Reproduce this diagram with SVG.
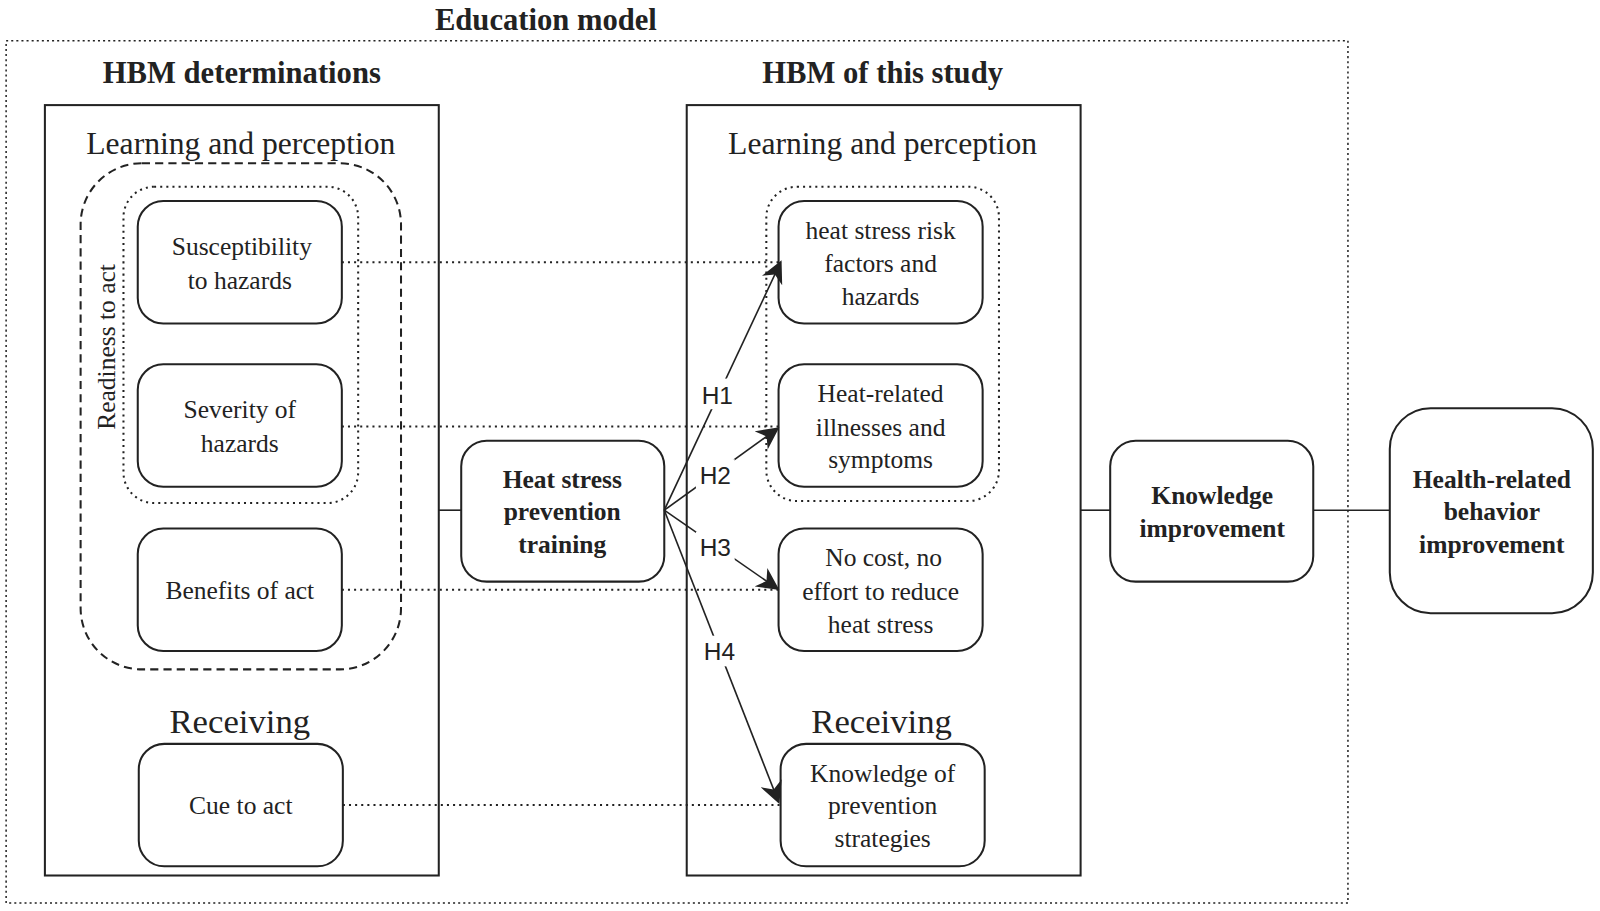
<svg xmlns="http://www.w3.org/2000/svg" width="1600" height="911" viewBox="0 0 1600 911">
<style>
text{font-family:"Liberation Serif",serif;fill:#222;text-anchor:middle}
.t{font-size:25px}
.h{font-size:30px;font-weight:bold}
.b{font-size:25px;font-weight:bold}
.s{font-size:31px}
.r{font-size:34px}
.hl{font-family:"Liberation Sans",sans-serif;font-size:24px}
.box{fill:#fff;stroke:#222;stroke-width:2}
.n{fill:#fff;stroke:#222;stroke-width:2}
.dot{fill:none;stroke:#222;stroke-width:2;stroke-dasharray:2 4}
.ln{stroke:#222;stroke-width:1.6;fill:none}
</style>
<defs>
<marker id="A" viewBox="0 0 10 10" refX="9" refY="5" markerWidth="22" markerHeight="22" markerUnits="userSpaceOnUse" orient="auto"><path d="M0,0 L10,5 L0,10 L3,5 Z" fill="#222"/></marker></defs>
<rect width="1600" height="911" fill="#fff"/>
<g transform="scale(1.0204)">
<text x="535" y="29" class="h">Education model</text>
<rect x="6" y="40" width="1315" height="845" fill="none" stroke="#222" stroke-width="1.5" stroke-dasharray="2 3"/>
<g id="left">
<text x="237" y="81" class="h">HBM determinations</text>
<rect x="44" y="103" width="386" height="755" class="box"/>
<text x="236" y="151" class="s">Learning and perception</text>
<rect x="79" y="160" width="314" height="496" rx="60" fill="none" stroke="#222" stroke-width="2" stroke-dasharray="8 5"/>
<rect x="121" y="183" width="230" height="310" rx="30" class="dot"/>
<text transform="translate(113,340) rotate(-90)" class="t">Readiness to act</text>
<text x="235" y="718" class="r">Receiving</text>
</g>
<g id="n1"><rect x="135" y="197" width="200" height="120" rx="25" class="n"/><text x="237" y="250" class="t">Susceptibility</text><text x="235" y="283" class="t">to hazards</text></g>
<g id="n2"><rect x="135" y="357" width="200" height="120" rx="25" class="n"/><text x="235" y="410" class="t">Severity of</text><text x="235" y="443" class="t">hazards</text></g>
<g id="n3"><rect x="135" y="518" width="200" height="120" rx="25" class="n"/><text x="235" y="587" class="t">Benefits of act</text></g>
<g id="n4"><rect x="136" y="729" width="200" height="120" rx="25" class="n"/><text x="236" y="798" class="t">Cue to act</text></g>
<g id="right">
<text x="865" y="81" class="h">HBM of this study</text>
<rect x="673" y="103" width="386" height="755" class="box"/>
<text x="865" y="151" class="s">Learning and perception</text>
<rect x="751" y="183" width="228" height="308" rx="30" class="dot"/>
<text x="864" y="718" class="r">Receiving</text>
</g>
<g id="m1"><rect x="763" y="197" width="200" height="120" rx="25" class="n"/><text x="863" y="234" class="t">heat stress risk</text><text x="863" y="267" class="t">factors and</text><text x="863" y="299" class="t">hazards</text></g>
<g id="m2"><rect x="763" y="357" width="200" height="120" rx="25" class="n"/><text x="863" y="394" class="t">Heat-related</text><text x="863" y="427" class="t">illnesses and</text><text x="863" y="459" class="t">symptoms</text></g>
<g id="m3"><rect x="763" y="518" width="200" height="120" rx="25" class="n"/><text x="866" y="555" class="t">No cost, no</text><text x="863" y="588" class="t">effort to reduce</text><text x="863" y="620" class="t">heat stress</text></g>
<g id="m4"><rect x="765" y="729" width="200" height="120" rx="25" class="n"/><text x="865" y="766" class="t">Knowledge of</text><text x="865" y="798" class="t">prevention</text><text x="865" y="830" class="t">strategies</text></g>
<g id="train"><rect x="452" y="432" width="199" height="138" rx="25" class="n"/><text x="551" y="478" class="b">Heat stress</text><text x="551" y="510" class="b">prevention</text><text x="551" y="542" class="b">training</text></g>
<g id="know"><rect x="1088" y="432" width="199" height="138" rx="25" class="n"/><text x="1188" y="494" class="b">Knowledge</text><text x="1188" y="526" class="b">improvement</text></g>
<g id="health"><rect x="1362" y="400" width="199" height="201" rx="40" class="n"/><text x="1462" y="478" class="b">Health-related</text><text x="1462" y="510" class="b">behavior</text><text x="1462" y="542" class="b">improvement</text></g>
<g id="connectors">
<line x1="430" y1="500" x2="452" y2="500" class="ln"/>
<line x1="1059" y1="500" x2="1088" y2="500" class="ln"/>
<line x1="1287" y1="500" x2="1362" y2="500" class="ln"/>
<g class="dot"><line x1="335" y1="257" x2="763" y2="257"/><line x1="335" y1="418" x2="763" y2="418"/><line x1="335" y1="578" x2="763" y2="578"/><line x1="336" y1="789" x2="765" y2="789"/></g>
<line x1="651" y1="500" x2="765" y2="257" class="ln" marker-end="url(#A)"/>
<line x1="651" y1="500" x2="762" y2="420" class="ln" marker-end="url(#A)"/>
<line x1="651" y1="500" x2="762" y2="577" class="ln" marker-end="url(#A)"/>
<line x1="651" y1="500" x2="763" y2="786" class="ln" marker-end="url(#A)"/>
<rect x="684" y="371" width="38" height="30" fill="#fff"/><text x="703" y="396" class="hl">H1</text>
<rect x="682" y="450" width="38" height="30" fill="#fff"/><text x="701" y="474" class="hl">H2</text>
<rect x="682" y="521" width="38" height="30" fill="#fff"/><text x="701" y="545" class="hl">H3</text>
<rect x="686" y="623" width="38" height="30" fill="#fff"/><text x="705" y="647" class="hl">H4</text>
</g>
</g>
</svg>
